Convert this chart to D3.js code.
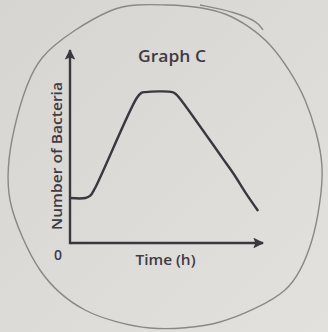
<!DOCTYPE html>
<html>
<head>
<meta charset="utf-8">
<script src="https://cdn.jsdelivr.net/npm/d3@7"></script>
<style>
  html, body { margin: 0; padding: 0; background: #dcdbd7; }
  svg { display: block; }
</style>
</head>
<body>
<svg width="328" height="332"></svg>
<script>
// growth curve (arbitrary units, 0..10)
const time = [0, 0.8, 1.05, 1.3, 3.45, 3.7, 3.9, 5.3, 5.5, 5.8, 7.9, 8.5, 9.1, 9.75];
const bacteria = [2.33, 2.33, 2.45, 2.85, 7.5, 7.78, 7.82, 7.82, 7.7, 7.35, 4.4, 3.55, 2.6, 1.66];

const title = "Graph C";
const xLabel = "Time (h)";
const yLabel = "Number of Bacteria";
const originLabel = "0";

// hand drawn circle round the graph (page coords)
const outline = [
  [110, 11], [167, 5], [225, 14], [270, 45], [305, 100], [322, 167],
  [312, 240], [285, 290], [220, 322], [150, 328], [85, 310], [40, 270],
  [10, 200], [14, 130], [42, 58]
];
const flourish = [[200, 5], [235, 12], [258, 22], [263, 30]];

const svg = d3.select("svg");
const ink = "#3d3640";

const defs = svg.append("defs");
const grad = defs.append("linearGradient").attr("id", "bg")
  .attr("x1", 0).attr("y1", 0).attr("x2", 1).attr("y2", 1);
grad.append("stop").attr("offset", 0).attr("stop-color", "#d6d5d1");
grad.append("stop").attr("offset", 1).attr("stop-color", "#e2e1dd");
svg.append("rect").attr("width", 328).attr("height", 332).attr("fill", "url(#bg)");

defs.append("marker").attr("id", "arrow")
  .attr("viewBox", "0 0 10 10").attr("refX", 9).attr("refY", 5)
  .attr("markerWidth", 5).attr("markerHeight", 4.5)
  .attr("markerUnits", "strokeWidth")
  .attr("orient", "auto")
  .append("path").attr("d", "M0,0 L10,5 L0,10 L2,5 Z").attr("fill", ink);

svg.append("path")
  .attr("d", d3.line().curve(d3.curveCardinalClosed.tension(0.1))(outline))
  .attr("fill", "none").attr("stroke", "#8a8885").attr("stroke-width", 1.4);
svg.append("path")
  .attr("d", d3.line().curve(d3.curveBasis)(flourish))
  .attr("fill", "none").attr("stroke", "#8a8885").attr("stroke-width", 1.4);

const x = d3.scaleLinear().domain([0, 10]).range([70, 263]);
const y = d3.scaleLinear().domain([0, 10]).range([243, 50]);

// axes drawn as arrows
svg.append("line")
  .attr("x1", x(0)).attr("y1", y(0)).attr("x2", x(10)).attr("y2", y(0))
  .attr("stroke", ink).attr("stroke-width", 2.4).attr("marker-end", "url(#arrow)");
svg.append("line")
  .attr("x1", x(0)).attr("y1", y(0) + 1.2).attr("x2", x(0)).attr("y2", y(10))
  .attr("stroke", ink).attr("stroke-width", 2.4).attr("marker-end", "url(#arrow)");

const line = d3.line()
  .x((d, i) => x(time[i]))
  .y((d, i) => y(bacteria[i]))
  .curve(d3.curveCatmullRom.alpha(0.5));

svg.append("path")
  .attr("d", line(time))
  .attr("fill", "none")
  .attr("stroke", ink)
  .attr("stroke-width", 2.4)
  .attr("stroke-linejoin", "round");

const font = "'Open Sans', 'Noto Sans', sans-serif";
const textCol = "#3f3a44";

svg.append("text")
  .attr("x", 172).attr("y", 62)
  .attr("text-anchor", "middle")
  .attr("font-family", font).attr("font-size", 16.5).attr("font-weight", 600)
  .attr("textLength", 68).attr("lengthAdjust", "spacingAndGlyphs")
  .attr("fill", textCol)
  .text(title);

svg.append("text")
  .attr("x", x(5) - 1).attr("y", 265)
  .attr("text-anchor", "middle")
  .attr("font-family", font).attr("font-size", 14).attr("font-weight", 600)
  .attr("textLength", 60).attr("lengthAdjust", "spacingAndGlyphs")
  .attr("fill", textCol)
  .text(xLabel);

svg.append("text")
  .attr("x", x(0) - 12).attr("y", 260)
  .attr("text-anchor", "middle")
  .attr("font-family", font).attr("font-size", 14).attr("font-weight", 600)
  .attr("fill", textCol)
  .text(originLabel);

svg.append("text")
  .attr("transform", "translate(62,156) rotate(-90)")
  .attr("text-anchor", "middle")
  .attr("font-family", font).attr("font-size", 15).attr("font-weight", 600)
  .attr("textLength", 148).attr("lengthAdjust", "spacingAndGlyphs")
  .attr("fill", textCol)
  .text(yLabel);
</script>
</body>
</html>
